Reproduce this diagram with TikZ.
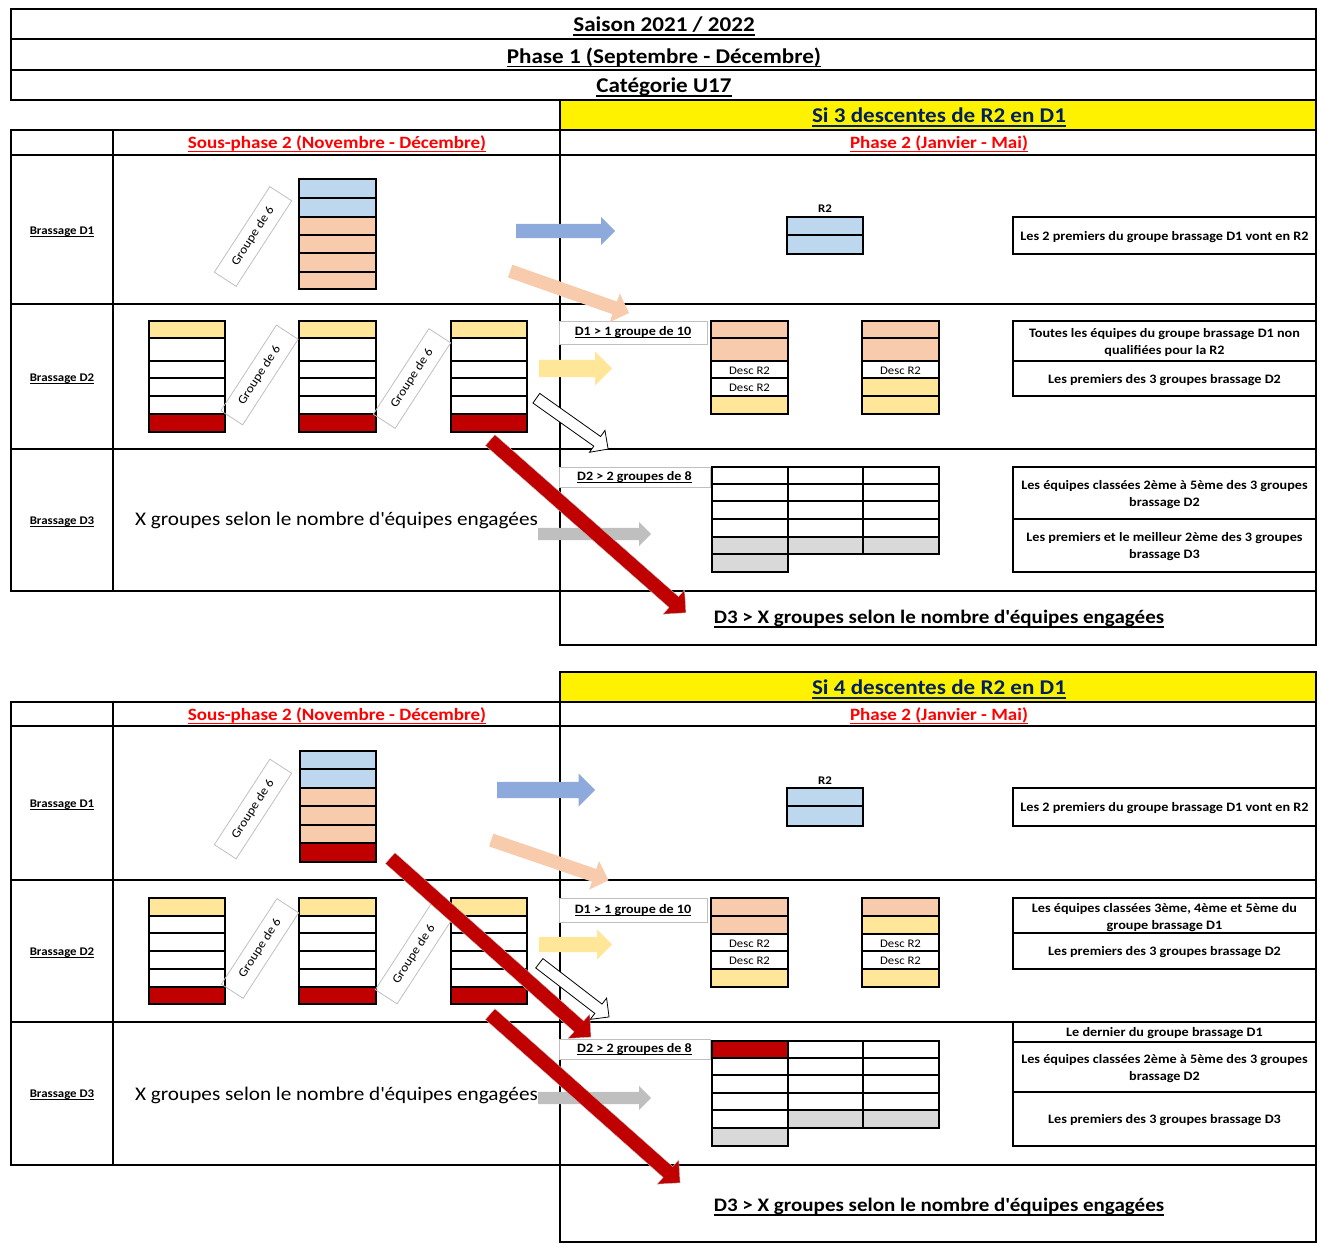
\documentclass[tikz,border=0pt]{standalone}
\usepackage{fontspec}
\setmainfont{Carlito}[FakeStretch=1.1]
\usetikzlibrary{shapes.arrows}
\definecolor{cblue}{HTML}{BDD7EE}
\definecolor{cpeach}{HTML}{F8CBAD}
\definecolor{cyell}{HTML}{FFE699}
\definecolor{cred}{HTML}{C00000}
\definecolor{cgrey}{HTML}{D9D9D9}
\definecolor{cnavy}{HTML}{002060}
\definecolor{ablue}{HTML}{8EA9DB}
\definecolor{agrey}{HTML}{BFBFBF}
\newcommand{\undl}[1]{\setbox0=\hbox{#1}\rlap{\rule[-0.2em]{\wd0}{0.075em}}\box0}

\begin{document}
\begin{tikzpicture}[
      x=1pt,y=-1pt,
      grid/.style={line width=2.6pt},
      cell/.style={draw=black,line width=2.2pt},
      head/.style={yshift=-2.5pt,font=\fontsize{21}{25}\selectfont\bfseries},
      sub/.style={yshift=-2pt,text=red,font=\fontsize{17.3}{20}\selectfont\bfseries},
      brass/.style={yshift=-1.5pt,font=\fontsize{11.7}{14}\selectfont\bfseries},
      note/.style={yshift=-1.5pt,align=center,font=\fontsize{12.9}{17}\selectfont\bfseries},
      tag/.style={draw=agrey,fill=white,line width=0.8pt,inner sep=0pt,
         font=\fontsize{12.8}{15}\selectfont\bfseries},
      grp6/.style={draw=agrey,line width=0.8pt,minimum width=102,minimum height=26,
         rotate=57,font=\fontsize{12.3}{14}\selectfont},
      desc/.style={yshift=-1pt,font=\fontsize{11.6}{13}\selectfont},
      big/.style={yshift=-1.5pt,font=\fontsize{19.3}{23}\selectfont},
      bigb/.style={yshift=-2pt,font=\fontsize{19.1}{22}\selectfont\bfseries},
      barrow/.style 2 args={single arrow,anchor=tail,inner xsep=0pt,
         inner ysep=#1/2,single arrow head extend=#2},
    ]
    \useasboundingbox (0,0) rectangle (1319,1244);

    % ---- header
    \draw[grid] (11,9) rectangle (1316,100);
    \draw[grid] (11,39) -- (1316,39) (11,70) -- (1316,70);
    \node[head] (saison) at (664,24) {\undl{Saison 2021 / 2022}};
    \node[head] (phase1) at (664,55) {\undl{Phase 1 (Septembre - Décembre)}};
    \node[head] (categ) at (664,85) {\undl{Catégorie U17}};

    % ---- block 1 : 3 descentes
    \draw[grid,fill=yellow] (560,100) rectangle (1316,130);
    \draw[grid] (11,130) rectangle (560,591);
    \draw[grid] (560,130) rectangle (1316,645);
    \draw[grid] (11,155) -- (1316,155) (11,304) -- (1316,304)
                (11,449) -- (1316,449) (560,591) -- (1316,591);
    \draw[grid] (113,130) -- (113,591);
    \node[head,text=cnavy] (si3) at (939,115) {\undl{Si 3 descentes de R2 en D1}};
    \node[sub] (spa) at (337,142) {\undl{Sous-phase 2 (Novembre - Décembre)}};
    \node[sub] (pha) at (939,142) {\undl{Phase 2 (Janvier - Mai)}};
    \node[brass] (bda) at (62,230) {\undl{Brassage D1}};
    \node[brass] (bdb) at (62,377) {\undl{Brassage D2}};
    \node[brass] (bdc) at (62,520) {\undl{Brassage D3}};

    \foreach \ya/\yb/\c in {179/198/cblue,198/217/cblue,217/235/cpeach,
                            235/253/cpeach,253/272/cpeach,272/289/cpeach}
      \draw[cell,fill=\c] (299,\ya) rectangle (376,\yb);
    \foreach \xa/\xb in {149/225,299/376,451/527}
      \foreach \ya/\yb/\c in {321/338/cyell,338/361/white,361/378/white,
                              378/396/white,396/414/white,414/432/cred}
        \draw[cell,fill=\c] (\xa,\ya) rectangle (\xb,\yb);
    \node[grp6] (gaa) at (253,236.5) {Groupe de 6};
    \node[grp6] (gab) at (259.5,375) {Groupe de 6};
    \node[grp6] (gac) at (412,378.5) {Groupe de 6};
    \node[big] (xga) at (336.5,519) {X groupes selon le nombre d\textquotesingle équipes engagées};

    % phase 2, block 1
    \node[brass] (rda) at (825,207) {R2};
    \foreach \ya/\yb in {217/235,235/254}
      \draw[cell,fill=cblue] (787,\ya) rectangle (863,\yb);
    \node[tag,minimum width=148,minimum height=23] (tda) at (633,332.5) {\undl{D1 > 1 groupe de 10}};
    \foreach \ya/\yb/\c in {321/338/cpeach,338/361/cpeach,361/378/white,378/396/white,396/414/cyell}
      \draw[cell,fill=\c] (711,\ya) rectangle (788,\yb);
    \foreach \ya/\yb/\c in {321/338/cpeach,338/361/cpeach,361/378/white,378/396/cyell,396/414/cyell}
      \draw[cell,fill=\c] (862,\ya) rectangle (939,\yb);
    \node[desc] (dsa) at (749.5,369.5) {Desc R2};
    \node[desc] (dsb) at (749.5,387) {Desc R2};
    \node[desc] (dsc) at (900.5,369.5) {Desc R2};
    \node[tag,minimum width=151,minimum height=20] (tdb) at (634.5,477) {\undl{D2 > 2 groupes de 8}};
    \foreach \xa/\xb in {712/788,788/863,863/939}
      \foreach \ya/\yb/\c in {467/484/white,484/501/white,501/519/white,519/537/white,537/554/cgrey}
        \draw[cell,fill=\c] (\xa,\ya) rectangle (\xb,\yb);
    \draw[cell,fill=cgrey] (712,554) rectangle (788,572);

    \draw[grid] (1013,217) rectangle (1316,254);
    \draw[grid] (1013,321) rectangle (1316,396) (1013,361) -- (1316,361);
    \draw[grid] (1013,467) rectangle (1316,572) (1013,519) -- (1316,519);
    \node[note] (nta) at (1164.5,235.5) {Les 2 premiers du groupe brassage D1 vont en R2};
    \node[note] (ntb) at (1164.5,341) {Toutes les équipes du groupe brassage D1 non\\qualifiées pour la R2};
    \node[note] (ntc) at (1164.5,378.5) {Les premiers des 3 groupes brassage D2};
    \node[note] (ntd) at (1164.5,493) {Les équipes classées 2ème à 5ème des 3 groupes\\brassage D2};
    \node[note] (nte) at (1164.5,545.5) {Les premiers et le meilleur 2ème des 3 groupes\\brassage D3};
    \node[bigb] (dxa) at (939,617) {\undl{D3 > X groupes selon le nombre d\textquotesingle équipes engagées}};

    % arrows, block 1
    \node[barrow={14}{7},fill=ablue,minimum height=99] (aba) at (516,231) {};
    \node[barrow={13}{8.5},fill=cpeach,minimum height=126,rotate=-19.4] (apa) at (510,271) {};
    \node[barrow={17}{8.5},fill=cyell,minimum height=73] (aya) at (539,368.5) {};
    \node[barrow={11}{7.5},fill=white,draw=black,line width=0.8pt,minimum height=88,rotate=-35.3] (awa) at (536,398) {};
    \node[barrow={12}{6},fill=agrey,minimum height=113] (aga) at (538,534) {};
    \node[barrow={14}{9},fill=cred,draw=black!25,minimum height=261,rotate=-41.4] (ara) at (490,440) {};

    % ---- block 2 : 4 descentes
    \draw[grid,fill=yellow] (560,672) rectangle (1316,702);
    \draw[grid] (11,702) rectangle (560,1165);
    \draw[grid] (560,702) rectangle (1316,1242);
    \draw[grid] (11,726) -- (1316,726) (11,880) -- (1316,880)
                (11,1022) -- (1316,1022) (560,1165) -- (1316,1165);
    \draw[grid] (113,702) -- (113,1165);
    \node[head,text=cnavy] (si4) at (939,687) {\undl{Si 4 descentes de R2 en D1}};
    \node[sub] (spb) at (337,714) {\undl{Sous-phase 2 (Novembre - Décembre)}};
    \node[sub] (phb) at (939,714) {\undl{Phase 2 (Janvier - Mai)}};
    \node[brass] (bea) at (62,803) {\undl{Brassage D1}};
    \node[brass] (beb) at (62,951) {\undl{Brassage D2}};
    \node[brass] (bec) at (62,1093) {\undl{Brassage D3}};

    \foreach \ya/\yb/\c in {751/769/cblue,769/788/cblue,788/806/cpeach,
                            806/825/cpeach,825/843/cpeach,843/862/cred}
      \draw[cell,fill=\c] (300,\ya) rectangle (376,\yb);
    \foreach \xa/\xb in {149/225,299/376,451/527}
      \foreach \ya/\yb/\c in {898/916/cyell,916/933/white,933/951/white,
                              951/969/white,969/987/white,987/1004/cred}
        \draw[cell,fill=\c] (\xa,\ya) rectangle (\xb,\yb);
    \node[grp6] (gba) at (253,809) {Groupe de 6};
    \node[grp6] (gbb) at (260,948.5) {Groupe de 6};
    \node[grp6] (gbc) at (414,954) {Groupe de 6};
    \node[big] (xgb) at (336.5,1094) {X groupes selon le nombre d\textquotesingle équipes engagées};

    % phase 2, block 2
    \node[brass] (rdb) at (825,779) {R2};
    \foreach \ya/\yb in {788/806,806/826}
      \draw[cell,fill=cblue] (787,\ya) rectangle (863,\yb);
    \node[tag,minimum width=148,minimum height=24] (tea) at (633,910) {\undl{D1 > 1 groupe de 10}};
    \foreach \ya/\yb/\c in {898/916/cpeach,916/934/cpeach,934/951/white,951/969/white,969/987/cyell}
      \draw[cell,fill=\c] (711,\ya) rectangle (788,\yb);
    \foreach \ya/\yb/\c in {898/916/cpeach,916/934/cyell,934/951/white,951/969/white,969/987/cyell}
      \draw[cell,fill=\c] (862,\ya) rectangle (939,\yb);
    \node[desc] (dta) at (749.5,942.5) {Desc R2};
    \node[desc] (dtb) at (749.5,960) {Desc R2};
    \node[desc] (dtc) at (900.5,942.5) {Desc R2};
    \node[desc] (dtd) at (900.5,960) {Desc R2};
    \node[tag,minimum width=151,minimum height=20] (teb) at (634.5,1049.5) {\undl{D2 > 2 groupes de 8}};
    \foreach \xa/\xb in {712/788,788/863,863/939}
      \foreach \ya/\yb in {1041/1058,1058/1075,1075/1093,1093/1110,1110/1128}
        \draw[cell,fill=white] (\xa,\ya) rectangle (\xb,\yb);
    \draw[cell,fill=cred] (712,1041) rectangle (788,1058);
    \draw[cell,fill=cgrey] (788,1110) rectangle (863,1128) (863,1110) rectangle (939,1128);
    \draw[cell,fill=cgrey] (712,1128) rectangle (788,1146);

    \draw[grid] (1013,788) rectangle (1316,826);
    \draw[grid] (1013,898) rectangle (1316,969) (1013,933) -- (1316,933);
    \draw[grid] (1013,1022) rectangle (1316,1146) (1013,1042) -- (1316,1042) (1013,1092) -- (1316,1092);
    \node[note] (nua) at (1164.5,807) {Les 2 premiers du groupe brassage D1 vont en R2};
    \node[note] (nub) at (1164.5,916) {Les équipes classées 3ème, 4ème et 5ème du\\groupe brassage D1};
    \node[note] (nuc) at (1164.5,951) {Les premiers des 3 groupes brassage D2};
    \node[note] (nud) at (1164.5,1032) {Le dernier du groupe brassage D1};
    \node[note] (nue) at (1164.5,1067) {Les équipes classées 2ème à 5ème des 3 groupes\\brassage D2};
    \node[note] (nuf) at (1164.5,1119) {Les premiers des 3 groupes brassage D3};
    \node[bigb] (dxb) at (939,1205) {\undl{D3 > X groupes selon le nombre d\textquotesingle équipes engagées}};

    % arrows, block 2
    \node[barrow={16}{8.5},fill=ablue,minimum height=98] (abb) at (497,790) {};
    \node[barrow={13}{8.5},fill=cpeach,minimum height=124,rotate=-18.9] (apb) at (491,840) {};
    \node[barrow={15}{7.5},fill=cyell,minimum height=73] (ayb) at (539,944.5) {};
    \node[barrow={11}{7.5},fill=white,draw=black,line width=0.8pt,minimum height=88,rotate=-37.6] (awb) at (539,963) {};
    \node[barrow={12}{6},fill=agrey,minimum height=113] (agb) at (538,1098) {};
    \node[barrow={14}{9},fill=cred,draw=black!25,minimum height=269,rotate=-41.7] (arb) at (390,858) {};
    \node[barrow={14}{9},fill=cred,draw=black!25,minimum height=254,rotate=-41.6] (arc) at (490,1014) {};
\end{tikzpicture}
\end{document}
